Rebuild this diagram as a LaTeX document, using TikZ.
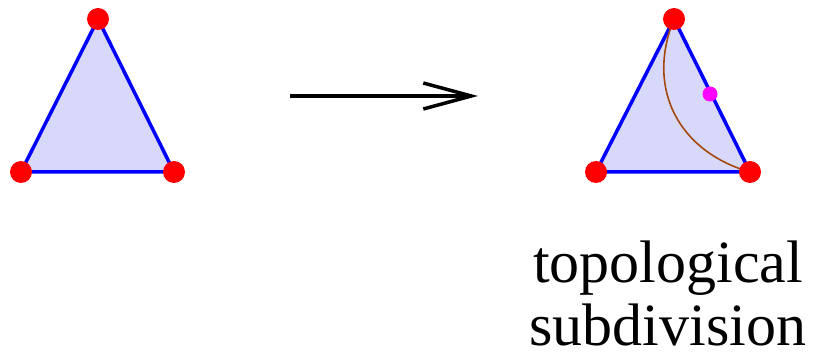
\documentclass[tikz,border=0pt]{standalone}
\usepackage{fontspec}
\setmainfont{Liberation Serif}
\usetikzlibrary{arrows.meta}
\definecolor{trifill}{RGB}{216,216,250}
\definecolor{triedge}{RGB}{0,0,255}
\definecolor{vert}{RGB}{255,0,0}
\definecolor{subv}{RGB}{255,0,255}
\definecolor{curvec}{RGB}{165,72,15}
\tikzset{
  tri/.style={draw=triedge, fill=trifill, line width=3.5pt, line join=round},
  vdot/.style={circle, fill=vert, inner sep=0pt, minimum size=22pt},
  sdot/.style={circle, fill=subv, inner sep=0pt, minimum size=15pt},
  curvestyle/.style={draw=curvec, line width=1.6pt},
  maparrow/.style={line width=3.5pt, -{Straight Barb[length=48pt,width=26pt,line width=3.5pt]}},
  lbl/.style={font=\fontsize{60}{63}\selectfont, align=center, inner sep=0pt}
}
\begin{document}
\begin{tikzpicture}[x=1pt,y=-1pt]
\useasboundingbox (0,0) rectangle (814,358);
% left triangle
\coordinate (L1) at (98,19);
\coordinate (L2) at (21,172);
\coordinate (L3) at (174,172);
\draw[tri] (L1) -- (L2) -- (L3) -- cycle;
\node[vdot] (l1) at (L1) {};
\node[vdot] (l2) at (L2) {};
\node[vdot] (l3) at (L3) {};
% arrow
\coordinate (a1) at (290,96);
\coordinate (a2) at (478,96);
\draw[maparrow] (a1) -- (a2);
% right triangle
\coordinate (R1) at (674,19);
\coordinate (R2) at (596,172);
\coordinate (R3) at (750,172);
\draw[tri] (R1) -- (R2) -- (R3) -- cycle;
\draw[curvestyle] (R1) .. controls (645,90) and (680,152) .. (R3);
\node[vdot] (r1) at (R1) {};
\node[vdot] (r2) at (R2) {};
\node[vdot] (r3) at (R3) {};
\node[sdot] (s) at (710,94) {};
% label
\node[lbl, anchor=base] (t) at (668,345) {topological\\subdivision};
\end{tikzpicture}
\end{document}
